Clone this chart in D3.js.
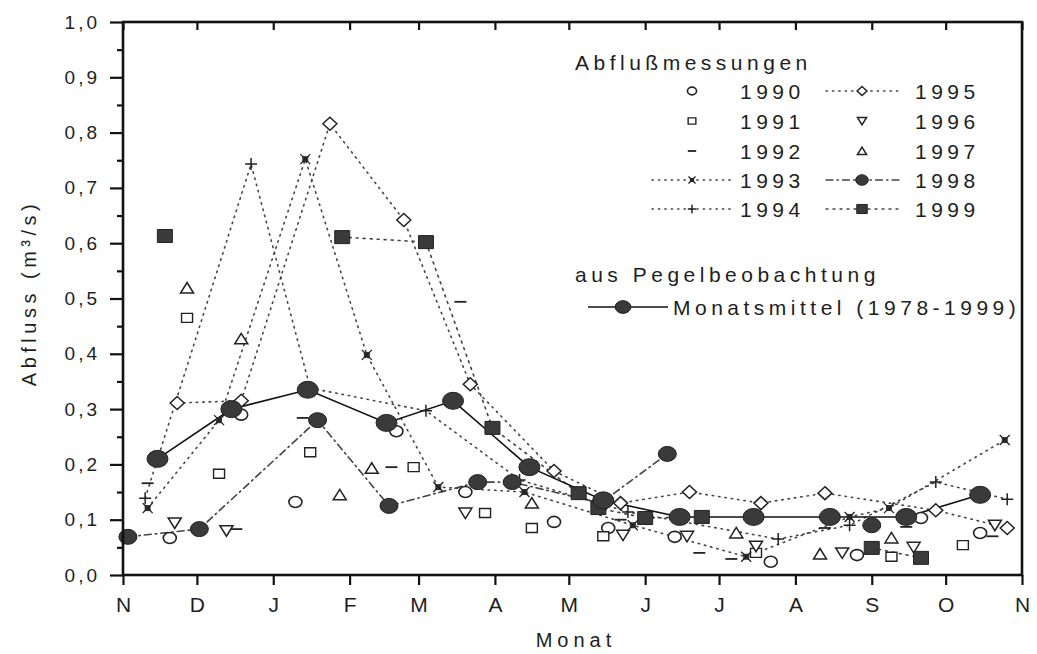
<!DOCTYPE html>
<html>
<head>
<meta charset="utf-8">
<script src="https://cdn.jsdelivr.net/npm/d3@7"></script>
<style>
  body { margin: 0; background: #fff; }
  text { font-family: "Liberation Sans", Arial, sans-serif; fill: #1e1e1e; }
</style>
</head>
<body>
<div class="container"></div>
<script>
// month labels for the hydrological year Nov..Nov
const monthLabels = ["N", "D", "J", "F", "M", "A", "M", "J", "J", "A", "S", "O", "N"];
const yTickValues = [0, 0.1, 0.2, 0.3, 0.4, 0.5, 0.6, 0.7, 0.8, 0.9, 1.0];

// Abflussmessungen, dates as "MM-DD", null = gap in the line
const dates1990 = ["11-20", "12-19", "01-10", "02-20", "03-20", "04-25", "05-17", "06-13", "07-22", "08-26", "09-21", "10-15"];
const flow1990  = [0.067, 0.29, 0.132, 0.26, 0.15, 0.096, 0.085, 0.069, 0.024, 0.036, 0.103, 0.076];

const dates1991 = ["11-27", "12-10", "01-16", "02-27", "03-28", "04-16", "05-15", "07-16", "09-09", "10-08"];
const flow1991  = [0.465, 0.183, 0.222, 0.195, 0.112, 0.085, 0.07, 0.04, 0.033, 0.054];

const dates1992 = ["11-11", "12-17", "01-13", "02-18", "03-18", "05-22", "06-23", "07-06", "08-13", "09-15", "10-20"];
const flow1992  = [0.166, 0.083, 0.284, 0.195, 0.494, 0.1, 0.04, 0.029, 0.085, 0.087, 0.07];

const dates1993 = ["11-11", "12-10", "01-14", "02-08", "03-09", "04-13", "05-27", "07-12", "08-23", "09-08", "10-25"];
const flow1993  = [0.121, 0.28, 0.752, 0.398, 0.159, 0.15, 0.09, 0.033, 0.105, 0.121, 0.244];

const dates1994 = ["11-10", "12-23", "01-16", "03-04", "04-11", "05-25", "07-25", "08-23", "09-27", "10-26"];
const flow1994  = [0.139, 0.743, 0.338, 0.297, 0.172, 0.114, 0.065, 0.09, 0.168, 0.137];

const dates1995 = ["11-23", "12-19", "01-24", "02-23", "03-22", "04-25", "05-22", "06-19", "07-18", "08-13", "09-27", "10-26"];
const flow1995  = [0.311, 0.315, 0.816, 0.642, 0.345, 0.188, 0.13, 0.15, 0.13, 0.148, 0.117, 0.085];

const dates1996 = ["11-22", "12-13", "03-20", "05-23", "06-18", "07-16", "08-20", "09-18", "10-21"];
const flow1996  = [0.094, 0.08, 0.112, 0.072, 0.07, 0.052, 0.04, 0.05, 0.09];

const dates1997 = ["11-27", "12-19", "01-28", "02-10", "04-16", "07-08", "08-11", "09-09"];
const flow1997  = [0.519, 0.427, 0.145, 0.193, 0.13, 0.076, 0.038, 0.067];

const dates1998 = ["11-03", "12-02", "01-19", "02-17", "03-25", "04-08", "05-14", "06-10", null, "09-01"];
const flow1998  = [0.069, 0.083, 0.28, 0.125, 0.168, 0.168, 0.13, 0.219, null, 0.09];

const dates1999 = ["11-18", null, "01-29", "03-04", "03-31", "05-05", "05-13", "06-01", "06-24", null, "09-01", "09-21"];
const flow1999  = [0.613, null, 0.611, 0.602, 0.266, 0.148, 0.121, 0.103, 0.105, null, 0.049, 0.031];

// aus Pegelbeobachtung: Monatsmittel 1978-1999
const datesMittel = ["11-15", "12-15", "01-15", "02-16", "03-15", "04-15", "05-15", "06-15", "07-15", "08-15", "09-15", "10-15"];
const flowMittel  = [0.21, 0.30, 0.335, 0.275, 0.315, 0.195, 0.135, 0.105, 0.105, 0.105, 0.105, 0.145];

const w = 1037;
const h = 654;

const parseDay = function(s) {
  if (s === null) return null;
  const p = s.split("-").map(Number);
  return new Date(p[0] >= 11 ? 2001 : 2002, p[0] - 1, p[1]);
};

const x = d3.scaleTime()
  .domain([new Date(2001, 10, 1), new Date(2002, 10, 1)])
  .range([123, 1022]);
const y = d3.scaleLinear()
  .domain([0, 1])
  .range([575, 22]);

const dotted = "1.4,5";
const series = [
  { name: "1990", dates: dates1990, values: flow1990, marker: "circle", dash: null },
  { name: "1991", dates: dates1991, values: flow1991, marker: "square", dash: null },
  { name: "1992", dates: dates1992, values: flow1992, marker: "dash", dash: null },
  { name: "1993", dates: dates1993, values: flow1993, marker: "star", dash: dotted },
  { name: "1994", dates: dates1994, values: flow1994, marker: "plus", dash: dotted },
  { name: "1995", dates: dates1995, values: flow1995, marker: "diamond", dash: dotted },
  { name: "1996", dates: dates1996, values: flow1996, marker: "tdown", dash: null },
  { name: "1997", dates: dates1997, values: flow1997, marker: "tup", dash: null },
  { name: "1998", dates: dates1998, values: flow1998, marker: "dot", dash: "7,4,1.5,4" },
  { name: "1999", dates: dates1999, values: flow1999, marker: "fsquare", dash: "2,5" }
];

const svg = d3.select(".container")
  .append("svg")
  .attr("width", w)
  .attr("height", h);

svg.append("rect").attr("width", w).attr("height", h).attr("fill", "#fff");

// draws one marker symbol centred on cx, cy (k = size factor)
function drawMarker(parent, type, cx, cy, k) {
  const ink = "#222";
  const g = parent.append("g").attr("transform", `translate(${cx},${cy}) scale(${k || 1})`);
  const add = (tag) => g.append(tag).attr("vector-effect", "non-scaling-stroke");
  if (type === "circle") {
    add("ellipse").attr("rx", 6.5).attr("ry", 5.5)
      .attr("fill", "#fff").attr("stroke", ink).attr("stroke-width", 1.6);
  } else if (type === "square") {
    add("rect").attr("x", -5.5).attr("y", -4.5).attr("width", 11).attr("height", 9)
      .attr("fill", "#fff").attr("stroke", ink).attr("stroke-width", 1.4);
  } else if (type === "dash") {
    add("line").attr("x1", -6).attr("x2", 6)
      .attr("stroke", ink).attr("stroke-width", 1.8);
  } else if (type === "star") {
    g.append("rect").attr("x", -3).attr("y", -3).attr("width", 6).attr("height", 6).attr("fill", "#333");
    add("path").attr("d", "M-5,-5L5,5M5,-5L-5,5")
      .attr("stroke", ink).attr("stroke-width", 1.3);
  } else if (type === "plus") {
    add("path").attr("d", "M-6,0L6,0M0,-6L0,6")
      .attr("stroke", ink).attr("stroke-width", 1.5);
  } else if (type === "diamond") {
    add("path").attr("d", "M0,-6.5L7,0L0,6.5L-7,0Z")
      .attr("fill", "#fff").attr("stroke", ink).attr("stroke-width", 1.5);
  } else if (type === "tdown") {
    add("path").attr("d", "M-6.5,-5L6.5,-5L0,5.5Z")
      .attr("fill", "#fff").attr("stroke", ink).attr("stroke-width", 1.5);
  } else if (type === "tup") {
    add("path").attr("d", "M-6.5,5L6.5,5L0,-5.5Z")
      .attr("fill", "#fff").attr("stroke", ink).attr("stroke-width", 1.5);
  } else if (type === "dot") {
    add("ellipse").attr("rx", 9).attr("ry", 7.5)
      .attr("fill", "#3a3a3a").attr("stroke", ink).attr("stroke-width", 1);
  } else if (type === "bigdot") {
    add("ellipse").attr("rx", 10.5).attr("ry", 8.5)
      .attr("fill", "#3a3a3a").attr("stroke", ink).attr("stroke-width", 1);
  } else if (type === "fsquare") {
    add("rect").attr("x", -7.5).attr("y", -6.5).attr("width", 15).attr("height", 13)
      .attr("fill", "#3a3a3a").attr("stroke", ink).attr("stroke-width", 1);
  }
}

const line = d3.line()
  .defined((d) => d.v !== null)
  .x((d) => x(d.t))
  .y((d) => y(d.v));

const plot = svg.append("g");

// lines of the measured years
series.forEach(function(s) {
  if (!s.dash) return;
  const pts = s.values.map((v, i) => ({ t: parseDay(s.dates[i]), v: v }));
  plot.append("path")
    .datum(pts)
    .attr("fill", "none")
    .attr("stroke", "#444")
    .attr("stroke-width", 1.6)
    .attr("stroke-linecap", "round")
    .attr("stroke-dasharray", s.dash)
    .attr("d", line);
});

// monthly mean line
const mittelPts = flowMittel.map((v, i) => ({ t: parseDay(datesMittel[i]), v: v }));
plot.append("path")
  .datum(mittelPts)
  .attr("fill", "none")
  .attr("stroke", "#111")
  .attr("stroke-width", 1.6)
  .attr("d", line);

// markers
series.forEach(function(s) {
  s.values.forEach(function(v, i) {
    if (v === null) return;
    drawMarker(plot, s.marker, x(parseDay(s.dates[i])), y(v), 1);
  });
});
mittelPts.forEach((d) => drawMarker(plot, "bigdot", x(d.t), y(d.v), 1));

// axes
const comma = (d) => d3.format(".1f")(d).replace(".", ",");

const xAxis = d3.axisBottom(x)
  .ticks(d3.timeMonth.every(1))
  .tickSize(10)
  .tickPadding(12)
  .tickFormat((d, i) => monthLabels[i]);
const gx = svg.append("g").attr("transform", "translate(0,575)").call(xAxis);

const xTop = d3.axisTop(x).ticks(d3.timeMonth.every(1)).tickSize(-8).tickFormat("");
const gt = svg.append("g").attr("transform", "translate(0,22)").call(xTop);

const yAxis = d3.axisLeft(y).tickValues(yTickValues).tickSize(13).tickPadding(10).tickFormat(comma);
const gy = svg.append("g").attr("transform", "translate(123,0)").call(yAxis);

const yMinor = d3.axisLeft(y).tickValues(d3.range(0.05, 1, 0.1)).tickSize(6).tickFormat("");
const gm = svg.append("g").attr("transform", "translate(123,0)").call(yMinor);

[gx, gt, gy, gm].forEach(function(g) {
  g.select(".domain").remove();
  g.selectAll(".tick line").attr("stroke", "#111").attr("stroke-width", 2.2);
  g.selectAll(".tick text")
    .attr("font-size", 19)
    .attr("letter-spacing", 3)
    .attr("fill", "#1e1e1e");
});
gx.selectAll(".tick text")
  .attr("font-family", "'Liberation Sans Narrow', 'Liberation Sans', sans-serif")
  .attr("font-size", 21)
  .attr("letter-spacing", 0);

// frame
svg.append("rect")
  .attr("x", 123).attr("y", 22)
  .attr("width", 1022 - 123).attr("height", 575 - 22)
  .attr("fill", "none")
  .attr("stroke", "#111")
  .attr("stroke-width", 2.6);

// axis titles
svg.append("text")
  .attr("x", 576).attr("y", 647)
  .attr("text-anchor", "middle")
  .attr("font-size", 20)
  .attr("letter-spacing", 5)
  .text("Monat");

svg.append("text")
  .attr("transform", "translate(36,293) rotate(-90)")
  .attr("text-anchor", "middle")
  .attr("font-size", 20)
  .attr("letter-spacing", 4.5)
  .text("Abfluss (m³/s)");

// legend
const leg = svg.append("g");
const legendFont = 21;
const legendSpacing = 4.5;

leg.append("text").attr("x", 575).attr("y", 70)
  .attr("font-size", legendFont).attr("letter-spacing", legendSpacing)
  .text("Abflußmessungen");

const rowY = [91, 121, 151, 180, 209];
series.forEach(function(s, i) {
  const col = i < 5 ? 0 : 1;
  const yy = rowY[i % 5];
  const mx = col === 0 ? 692 : 862;
  if (s.dash) {
    const x1 = col === 0 ? 652 : 826;
    const x2 = col === 0 ? 732 : 900;
    leg.append("line")
      .attr("x1", x1).attr("x2", x2).attr("y1", yy).attr("y2", yy)
      .attr("stroke", "#444").attr("stroke-width", 1.4)
      .attr("stroke-linecap", "round")
      .attr("stroke-dasharray", s.dash);
  }
  drawMarker(leg, s.marker, mx, yy, 0.7);
  leg.append("text")
    .attr("x", col === 0 ? 740 : 915)
    .attr("y", yy + 8)
    .attr("font-size", legendFont)
    .attr("letter-spacing", legendSpacing)
    .text(s.name);
});

leg.append("text").attr("x", 575).attr("y", 282)
  .attr("font-size", legendFont).attr("letter-spacing", legendSpacing)
  .text("aus Pegelbeobachtung");

leg.append("line")
  .attr("x1", 588).attr("x2", 668).attr("y1", 307).attr("y2", 307)
  .attr("stroke", "#111").attr("stroke-width", 1.6);
drawMarker(leg, "bigdot", 623, 307, 0.75);
leg.append("text").attr("x", 673).attr("y", 315)
  .attr("font-size", legendFont).attr("letter-spacing", legendSpacing)
  .text("Monatsmittel (1978-1999)");
</script>
</body>
</html>
